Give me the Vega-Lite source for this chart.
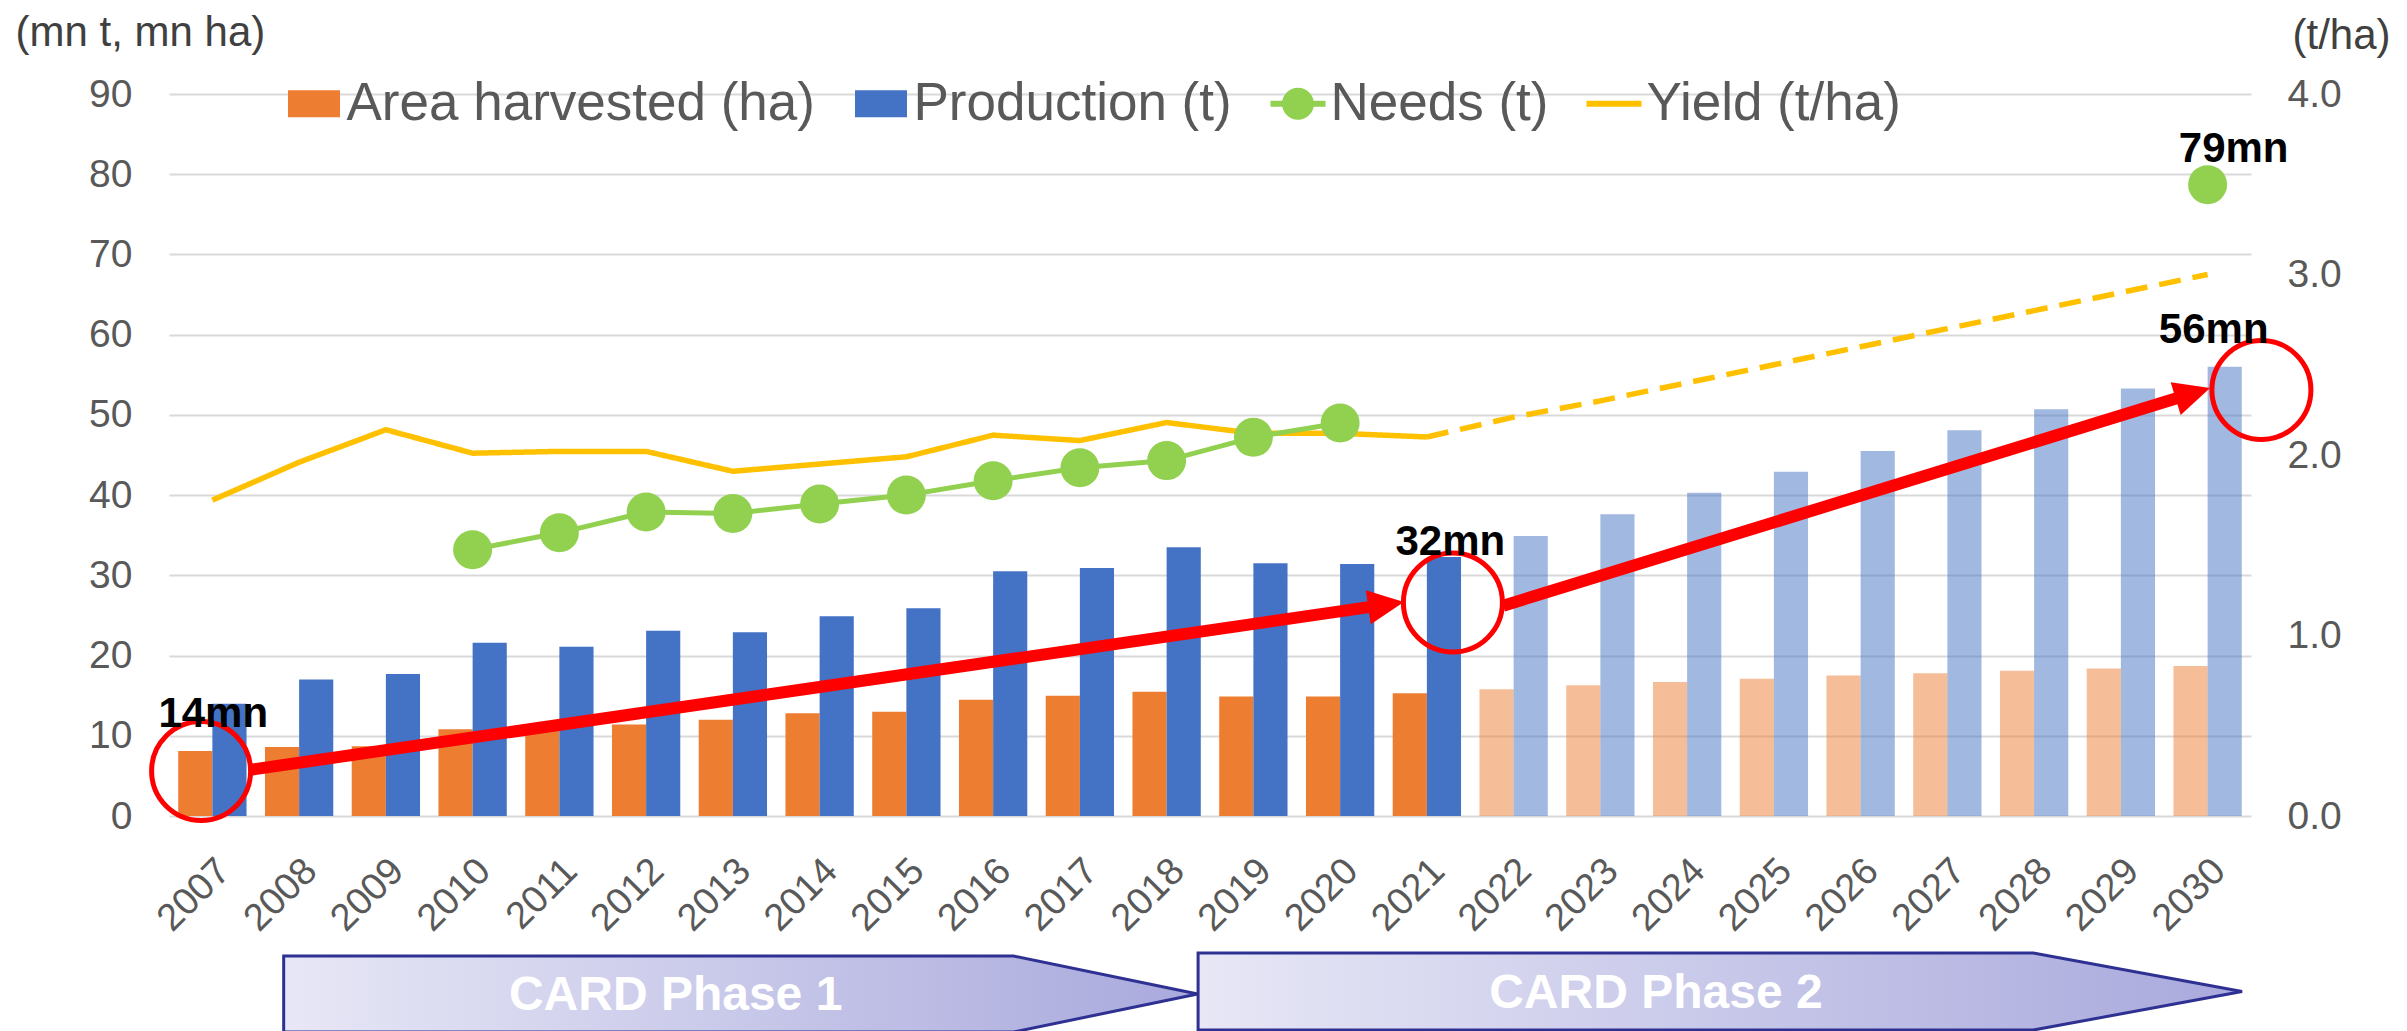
{
  "$schema": "https://vega.github.io/schema/vega-lite/v6.json",
  "autosize": {"type": "none"},
  "width": 2082,
  "height": 722,
  "padding": {"left": 169, "top": 94, "right": 156, "bottom": 215},
  "background": "white",
  "config": {"view": {"stroke": null}, "font": "Liberation Sans"},
  "datasets": {
    "bars": [
      {"year": 2007, "series": "Area harvested (ha)", "value": 8.1, "phase": "actual"},
      {"year": 2007, "series": "Production (t)", "value": 14.0, "phase": "actual"},
      {"year": 2008, "series": "Area harvested (ha)", "value": 8.6, "phase": "actual"},
      {"year": 2008, "series": "Production (t)", "value": 17.0, "phase": "actual"},
      {"year": 2009, "series": "Area harvested (ha)", "value": 8.7, "phase": "actual"},
      {"year": 2009, "series": "Production (t)", "value": 17.7, "phase": "actual"},
      {"year": 2010, "series": "Area harvested (ha)", "value": 10.8, "phase": "actual"},
      {"year": 2010, "series": "Production (t)", "value": 21.6, "phase": "actual"},
      {"year": 2011, "series": "Area harvested (ha)", "value": 10.8, "phase": "actual"},
      {"year": 2011, "series": "Production (t)", "value": 21.1, "phase": "actual"},
      {"year": 2012, "series": "Area harvested (ha)", "value": 11.4, "phase": "actual"},
      {"year": 2012, "series": "Production (t)", "value": 23.1, "phase": "actual"},
      {"year": 2013, "series": "Area harvested (ha)", "value": 12.0, "phase": "actual"},
      {"year": 2013, "series": "Production (t)", "value": 22.9, "phase": "actual"},
      {"year": 2014, "series": "Area harvested (ha)", "value": 12.8, "phase": "actual"},
      {"year": 2014, "series": "Production (t)", "value": 24.9, "phase": "actual"},
      {"year": 2015, "series": "Area harvested (ha)", "value": 13.0, "phase": "actual"},
      {"year": 2015, "series": "Production (t)", "value": 25.9, "phase": "actual"},
      {"year": 2016, "series": "Area harvested (ha)", "value": 14.5, "phase": "actual"},
      {"year": 2016, "series": "Production (t)", "value": 30.5, "phase": "actual"},
      {"year": 2017, "series": "Area harvested (ha)", "value": 15.0, "phase": "actual"},
      {"year": 2017, "series": "Production (t)", "value": 30.9, "phase": "actual"},
      {"year": 2018, "series": "Area harvested (ha)", "value": 15.5, "phase": "actual"},
      {"year": 2018, "series": "Production (t)", "value": 33.5, "phase": "actual"},
      {"year": 2019, "series": "Area harvested (ha)", "value": 14.9, "phase": "actual"},
      {"year": 2019, "series": "Production (t)", "value": 31.5, "phase": "actual"},
      {"year": 2020, "series": "Area harvested (ha)", "value": 14.9, "phase": "actual"},
      {"year": 2020, "series": "Production (t)", "value": 31.4, "phase": "actual"},
      {"year": 2021, "series": "Area harvested (ha)", "value": 15.3, "phase": "actual"},
      {"year": 2021, "series": "Production (t)", "value": 32.3, "phase": "actual"},
      {"year": 2022, "series": "Area harvested (ha)", "value": 15.8, "phase": "projection"},
      {"year": 2022, "series": "Production (t)", "value": 34.9, "phase": "projection"},
      {"year": 2023, "series": "Area harvested (ha)", "value": 16.3, "phase": "projection"},
      {"year": 2023, "series": "Production (t)", "value": 37.6, "phase": "projection"},
      {"year": 2024, "series": "Area harvested (ha)", "value": 16.7, "phase": "projection"},
      {"year": 2024, "series": "Production (t)", "value": 40.3, "phase": "projection"},
      {"year": 2025, "series": "Area harvested (ha)", "value": 17.1, "phase": "projection"},
      {"year": 2025, "series": "Production (t)", "value": 42.9, "phase": "projection"},
      {"year": 2026, "series": "Area harvested (ha)", "value": 17.5, "phase": "projection"},
      {"year": 2026, "series": "Production (t)", "value": 45.5, "phase": "projection"},
      {"year": 2027, "series": "Area harvested (ha)", "value": 17.8, "phase": "projection"},
      {"year": 2027, "series": "Production (t)", "value": 48.1, "phase": "projection"},
      {"year": 2028, "series": "Area harvested (ha)", "value": 18.1, "phase": "projection"},
      {"year": 2028, "series": "Production (t)", "value": 50.7, "phase": "projection"},
      {"year": 2029, "series": "Area harvested (ha)", "value": 18.4, "phase": "projection"},
      {"year": 2029, "series": "Production (t)", "value": 53.3, "phase": "projection"},
      {"year": 2030, "series": "Area harvested (ha)", "value": 18.7, "phase": "projection"},
      {"year": 2030, "series": "Production (t)", "value": 56.0, "phase": "projection"}
    ],
    "needs": [
      {"year": 2010, "needs": 33.2}, {"year": 2011, "needs": 35.3}, {"year": 2012, "needs": 37.9},
      {"year": 2013, "needs": 37.7}, {"year": 2014, "needs": 38.9}, {"year": 2015, "needs": 40.0},
      {"year": 2016, "needs": 41.8}, {"year": 2017, "needs": 43.4}, {"year": 2018, "needs": 44.3},
      {"year": 2019, "needs": 47.2}, {"year": 2020, "needs": 49.0}, {"year": 2030, "needs": 78.7}
    ],
    "yield": [
      {"year": 2007, "yield": 1.75, "seg": "actual"}, {"year": 2008, "yield": 1.96, "seg": "actual"},
      {"year": 2009, "yield": 2.14, "seg": "actual"}, {"year": 2010, "yield": 2.01, "seg": "actual"},
      {"year": 2011, "yield": 2.02, "seg": "actual"}, {"year": 2012, "yield": 2.02, "seg": "actual"},
      {"year": 2013, "yield": 1.91, "seg": "actual"}, {"year": 2014, "yield": 1.95, "seg": "actual"},
      {"year": 2015, "yield": 1.99, "seg": "actual"}, {"year": 2016, "yield": 2.11, "seg": "actual"},
      {"year": 2017, "yield": 2.08, "seg": "actual"}, {"year": 2018, "yield": 2.18, "seg": "actual"},
      {"year": 2019, "yield": 2.12, "seg": "actual"}, {"year": 2020, "yield": 2.12, "seg": "actual"},
      {"year": 2021, "yield": 2.10, "seg": "actual"},
      {"year": 2021, "yield": 2.10, "seg": "projection"}, {"year": 2022, "yield": 2.21, "seg": "projection"},
      {"year": 2023, "yield": 2.30, "seg": "projection"}, {"year": 2024, "yield": 2.40, "seg": "projection"},
      {"year": 2025, "yield": 2.50, "seg": "projection"}, {"year": 2026, "yield": 2.60, "seg": "projection"},
      {"year": 2027, "yield": 2.70, "seg": "projection"}, {"year": 2028, "yield": 2.80, "seg": "projection"},
      {"year": 2029, "yield": 2.90, "seg": "projection"}, {"year": 2030, "yield": 3.00, "seg": "projection"}
    ],
    "arrows": [
      {"id": 1, "x": 2007.42, "y": 5.73, "x2": 2020.53, "y2": 26.35},
      {"id": 2, "x": 2021.88, "y": 26.21, "x2": 2029.83, "y2": 52.69}
    ],
    "circles": [
      {"x": 2006.87, "y": 5.61}, {"x": 2021.30, "y": 26.61}, {"x": 2030.62, "y": 53.10}
    ],
    "callouts": [
      {"x": 2007.01, "y": 11.13, "label": "14mn"},
      {"x": 2021.27, "y": 32.54, "label": "32mn"},
      {"x": 2030.07, "y": 58.96, "label": "56mn"},
      {"x": 2030.30, "y": 81.56, "label": "79mn"}
    ],
    "phases": [
      {"id": 1, "x": 2013.09, "y": -22.19},
      {"id": 2, "x": 2024.38, "y": -21.88}
    ],
    "phaseLabels": [
      {"x": 2012.34, "y": -24.18, "label": "CARD Phase 1"},
      {"x": 2023.64, "y": -23.9, "label": "CARD Phase 2"}
    ]
  },
  "resolve": {"scale": {"x": "independent", "y": "independent"}},
  "layer": [
    {
      "data": {"name": "bars"},
      "mark": {"type": "bar"},
      "encoding": {
        "x": {
          "field": "year", "type": "ordinal",
          "scale": {"paddingInner": 0, "paddingOuter": 0},
          "axis": {
            "title": null, "labelAngle": -45, "labelAlign": "right", "labelBaseline": "middle",
            "labelFontSize": 38, "labelColor": "#595959", "labelFont": "Liberation Sans",
            "labelPadding": 49, "labelOffset": 12, "ticks": false, "tickSize": 0, "domain": false, "grid": false
          }
        },
        "xOffset": {
          "field": "series", "type": "nominal",
          "scale": {"domain": ["Area harvested (ha)", "Production (t)"], "paddingInner": 0, "paddingOuter": 0.27}
        },
        "y": {
          "field": "value", "type": "quantitative",
          "scale": {"domain": [0, 90], "nice": false},
          "axis": {
            "values": [0, 10, 20, 30, 40, 50, 60, 70, 80, 90],
            "title": "(mn t, mn ha)", "titleAngle": 0, "titleAlign": "left", "titleBaseline": "alphabetic",
            "titleX": -154, "titleY": -49, "titleFontSize": 42, "titleFontWeight": "normal",
            "titleColor": "#404040", "titleFont": "Liberation Sans",
            "labelFontSize": 39, "labelColor": "#595959", "labelFont": "Liberation Sans", "labelPadding": 37,
            "ticks": false, "tickSize": 0, "domain": false, "grid": true, "gridColor": "#d9d9d9", "gridWidth": 2
          }
        },
        "color": {
          "field": "series", "type": "nominal",
          "scale": {
            "domain": ["Area harvested (ha)", "Production (t)", "Needs (t)", "Yield (t/ha)"],
            "range": ["#ED7D31", "#4472C4", "#92D050", "#FFC000"]
          },
          "legend": {
            "title": null, "orient": "none", "legendX": 117.5, "legendY": -18,
            "direction": "horizontal", "columns": 4, "columnPadding": 38,
            "labelFontSize": 53, "labelColor": "#595959", "labelFont": "Liberation Sans",
            "labelOffset": 5, "labelLimit": 0, "symbolSize": 3025, "symbolStrokeWidth": 0, "symbolOpacity": 1,
            "encode": {
              "symbols": {
                "update": {
                  "shape": {"signal": "datum.value === 'Needs (t)' ? 'M -1 -0.11 L 1 -0.11 L 1 0.11 L -1 0.11 Z M 0.58 0 A 0.58 0.58 0 1 1 -0.58 0 A 0.58 0.58 0 1 1 0.58 0 Z' : (datum.value === 'Yield (t/ha)' ? 'M -1 -0.11 L 1 -0.11 L 1 0.11 L -1 0.11 Z' : 'M -0.945 -0.49 L 0.945 -0.49 L 0.945 0.49 L -0.945 0.49 Z')"}
                }
              }
            }
          }
        },
        "opacity": {
          "field": "phase", "type": "nominal",
          "scale": {"domain": ["actual", "projection"], "range": [1, 0.5]},
          "legend": null
        }
      }
    },
    {
      "data": {"name": "yield"},
      "mark": {"type": "line", "color": "#FFC000", "strokeWidth": 5.5},
      "encoding": {
        "x": {"field": "year", "type": "quantitative", "scale": {"domain": [2006.5, 2030.5], "nice": false, "zero": false}, "axis": null},
        "y": {
          "field": "yield", "type": "quantitative",
          "scale": {"domain": [0, 4], "nice": false},
          "axis": {
            "orient": "right", "values": [0, 1, 2, 3, 4], "format": ".1f",
            "title": "(t/ha)", "titleAngle": 0, "titleAlign": "left", "titleBaseline": "alphabetic",
            "titleX": 41, "titleY": -46, "titleFontSize": 42, "titleFontWeight": "normal",
            "titleColor": "#404040", "titleFont": "Liberation Sans",
            "labelFontSize": 39, "labelColor": "#595959", "labelFont": "Liberation Sans", "labelPadding": 36,
            "ticks": false, "tickSize": 0, "domain": false, "grid": false
          }
        },
        "strokeDash": {
          "field": "seg", "type": "nominal",
          "scale": {"domain": ["actual", "projection"], "range": [[1, 0], [22, 12]]},
          "legend": null
        }
      }
    },
    {
      "encoding": {
        "x": {"type": "quantitative", "scale": {"domain": [2006.5, 2030.5], "nice": false, "zero": false}, "axis": null},
        "y": {"type": "quantitative", "scale": {"domain": [0, 90], "nice": false}, "axis": null}
      },
      "layer": [
        {
          "data": {"name": "phases"},
          "transform": [{"filter": "datum.id === 1"}],
          "mark": {
            "type": "point", "filled": true, "size": 835396, "opacity": 1,
            "shape": "M -1 -0.0832 L 0.597 -0.0832 L 1 0 L 0.597 0.0832 L -1 0.0832 Z",
            "fill": {"gradient": "linear", "x1": 0, "y1": 0, "x2": 1, "y2": 0,
              "stops": [{"offset": 0, "color": "#E7E7F6"}, {"offset": 1, "color": "#A9A9DD"}]},
            "stroke": "#2E3192", "strokeWidth": 3
          },
          "encoding": {"x": {"field": "x"}, "y": {"field": "y"}}
        },
        {
          "data": {"name": "phases"},
          "transform": [{"filter": "datum.id === 2"}],
          "mark": {
            "type": "point", "filled": true, "size": 1089936, "opacity": 1,
            "shape": "M -1 -0.0738 L 0.6 -0.0738 L 1 0 L 0.6 0.0738 L -1 0.0738 Z",
            "fill": {"gradient": "linear", "x1": 0, "y1": 0, "x2": 1, "y2": 0,
              "stops": [{"offset": 0, "color": "#E7E7F6"}, {"offset": 1, "color": "#A9A9DD"}]},
            "stroke": "#2E3192", "strokeWidth": 3
          },
          "encoding": {"x": {"field": "x"}, "y": {"field": "y"}}
        },
        {
          "data": {"name": "phaseLabels"},
          "mark": {"type": "text", "color": "white", "fontWeight": "bold", "fontSize": 48, "font": "Liberation Sans", "align": "center", "baseline": "alphabetic"},
          "encoding": {"x": {"field": "x"}, "y": {"field": "y"}, "text": {"field": "label"}}
        },
        {
          "data": {"name": "needs"},
          "transform": [{"filter": "datum.year <= 2020"}],
          "mark": {"type": "line", "color": "#92D050", "strokeWidth": 5},
          "encoding": {"x": {"field": "year"}, "y": {"field": "needs"}}
        },
        {
          "data": {"name": "needs"},
          "mark": {"type": "point", "filled": true, "color": "#92D050", "size": 1520, "opacity": 1},
          "encoding": {"x": {"field": "year"}, "y": {"field": "needs"}}
        },
        {
          "data": {"name": "arrows"},
          "mark": {"type": "rule", "color": "#FF0000", "strokeWidth": 12, "strokeCap": "butt"},
          "encoding": {"x": {"field": "x"}, "y": {"field": "y"}, "x2": {"field": "x2"}, "y2": {"field": "y2"}}
        },
        {
          "data": {"name": "arrows"},
          "transform": [{"filter": "datum.id === 1"}],
          "mark": {"type": "point", "filled": true, "color": "#FF0000", "opacity": 1, "size": 1296, "angle": -8.3, "shape": "M 1 0 L -1 -0.95 L -1 0.95 Z"},
          "encoding": {"x": {"field": "x2"}, "y": {"field": "y2"}}
        },
        {
          "data": {"name": "arrows"},
          "transform": [{"filter": "datum.id === 2"}],
          "mark": {"type": "point", "filled": true, "color": "#FF0000", "opacity": 1, "size": 1296, "angle": -17.1, "shape": "M 1 0 L -1 -0.95 L -1 0.95 Z"},
          "encoding": {"x": {"field": "x2"}, "y": {"field": "y2"}}
        },
        {
          "data": {"name": "circles"},
          "mark": {"type": "point", "shape": "circle", "filled": false, "stroke": "#FF0000", "strokeWidth": 5, "size": 9800, "opacity": 1},
          "encoding": {"x": {"field": "x"}, "y": {"field": "y"}}
        },
        {
          "data": {"name": "callouts"},
          "mark": {"type": "text", "color": "black", "fontWeight": "bold", "fontSize": 42, "font": "Liberation Sans", "align": "center", "baseline": "alphabetic"},
          "encoding": {"x": {"field": "x"}, "y": {"field": "y"}, "text": {"field": "label"}}
        }
      ]
    }
  ]
}
